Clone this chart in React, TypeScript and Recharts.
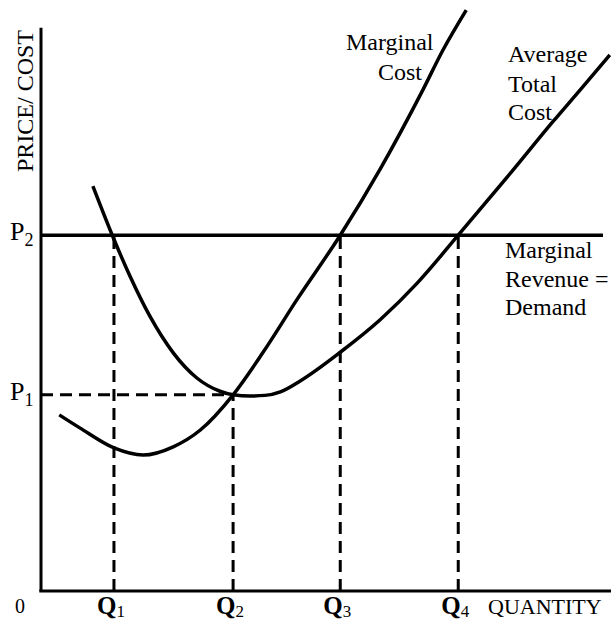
import {
  Customized,
  Line,
  LineChart,
  ReferenceLine,
  XAxis,
  YAxis,
} from "recharts";

// quantity levels and price levels (chart units, 0-100)
const qLevels = [12.8, 33.7, 52.5, 73.2];
const qNames = ["1", "2", "3", "4"];
const pLevels = [33.2, 60.2];
const pNames = ["1", "2"];

// marginal cost curve
const mcQty = [3.2, 6.8, 12.8, 17.9, 23.2, 27.9, 33.7, 38.9, 44.9, 52.5, 59.5, 67.0, 70.5, 74.6];
const mcCost = [29.8, 27.6, 24.2, 23.0, 24.4, 27.2, 33.2, 40.3, 49.3, 60.2, 71.4, 84.8, 91.5, 98.3];

// average total cost curve
const atcQty = [9.1, 12.5, 15.6, 19.1, 23.2, 27.4, 31.4, 33.7, 36.7, 39.3, 42.0, 45.4, 52.5, 59.5, 66.0, 73.2, 82.8, 89.8, 94.6, 99.8];
const atcCost = [68.5, 60.2, 53.3, 46.5, 40.3, 36.0, 33.8, 33.2, 33.0, 33.1, 33.7, 35.5, 40.4, 45.9, 52.1, 60.2, 71.2, 79.4, 84.8, 90.7];

const mc = mcQty.map((x, i) => ({ x, y: mcCost[i] }));
const atc = atcQty.map((x, i) => ({ x, y: atcCost[i] }));

const FONT = "'Liberation Serif', 'Times New Roman', serif";
const INK = "#000";

function QTick({ x, payload }: any) {
  const i = qLevels.indexOf(payload.value);
  return (
    <text x={x - 3} y={614} textAnchor="middle" style={{ fontFamily: FONT }} fill={INK}>
      <tspan fontSize={25} fontWeight="bold">Q</tspan>
      <tspan fontSize={17} dy={3}>{qNames[i]}</tspan>
    </text>
  );
}

function PTick({ y, payload }: any) {
  const i = pLevels.indexOf(payload.value);
  return (
    <text x={10} y={y + 5} style={{ fontFamily: FONT }} fill={INK}>
      <tspan fontSize={26}>P</tspan>
      <tspan fontSize={18} dy={6}>{pNames[i]}</tspan>
    </text>
  );
}

function Labels() {
  const t = { style: { fontFamily: FONT }, fontSize: 24, fill: INK };
  return (
    <g>
      <text {...t} transform="translate(33,101) rotate(-90)" textAnchor="middle">
        PRICE/ COST
      </text>
      <text {...t} x={346} y={50}>Marginal</text>
      <text {...t} x={378} y={80}>Cost</text>
      <text {...t} x={508} y={62}>Average</text>
      <text {...t} x={508} y={92}>Total</text>
      <text {...t} x={508} y={120}>Cost</text>
      <text {...t} x={505} y={258}>Marginal</text>
      <text {...t} x={505} y={287}>Revenue =</text>
      <text {...t} x={505} y={315}>Demand</text>
      <text {...t} fontSize={20} x={20} y={613} textAnchor="middle">0</text>
      <text {...t} fontSize={22} x={488} y={614}>QUANTITY</text>
    </g>
  );
}

export default function App() {
  const dash = { stroke: INK, strokeWidth: 3, strokeDasharray: "12 7", ifOverflow: "visible" as const };
  return (
    <div style={{ position: "absolute", left: 0, top: 0, background: "#fff" }}>
      <LineChart width={611} height={624} margin={{ top: 0, right: 0, bottom: 0, left: 0 }}>
        <XAxis
          type="number"
          dataKey="x"
          domain={[0, 100]}
          ticks={qLevels}
          tick={<QTick />}
          axisLine={false}
          tickLine={false}
          height={33}
          allowDataOverflow
        />
        <YAxis
          type="number"
          dataKey="y"
          domain={[0, 100]}
          ticks={pLevels}
          tick={<PTick />}
          axisLine={false}
          tickLine={false}
          width={41}
          allowDataOverflow
        />
        {qLevels.map((q, i) => (
          <ReferenceLine
            key={"q" + i}
            {...dash}
            segment={[
              { x: q, y: 0 },
              { x: q, y: i === 1 ? pLevels[0] : pLevels[1] },
            ]}
          />
        ))}
        <ReferenceLine
          {...dash}
          segment={[
            { x: 0, y: pLevels[0] },
            { x: qLevels[1], y: pLevels[0] },
          ]}
        />
        <ReferenceLine
          stroke={INK}
          strokeWidth={3.5}
          ifOverflow="visible"
          segment={[
            { x: 0, y: pLevels[1] },
            { x: 98.6, y: pLevels[1] },
          ]}
        />
        <Line
          data={mc}
          dataKey="y"
          type="monotone"
          stroke={INK}
          strokeWidth={3.5}
          dot={false}
          activeDot={false}
          isAnimationActive={false}
        />
        <Line
          data={atc}
          dataKey="y"
          type="monotone"
          stroke={INK}
          strokeWidth={3.5}
          dot={false}
          activeDot={false}
          isAnimationActive={false}
        />
        <ReferenceLine
          stroke={INK}
          strokeWidth={3}
          ifOverflow="visible"
          segment={[
            { x: 0, y: 0 },
            { x: 0, y: 95.3 },
          ]}
        />
        <ReferenceLine
          stroke={INK}
          strokeWidth={3}
          ifOverflow="visible"
          segment={[
            { x: -0.3, y: 0 },
            { x: 100, y: 0 },
          ]}
        />
        <Customized component={Labels} />
      </LineChart>
    </div>
  );
}
